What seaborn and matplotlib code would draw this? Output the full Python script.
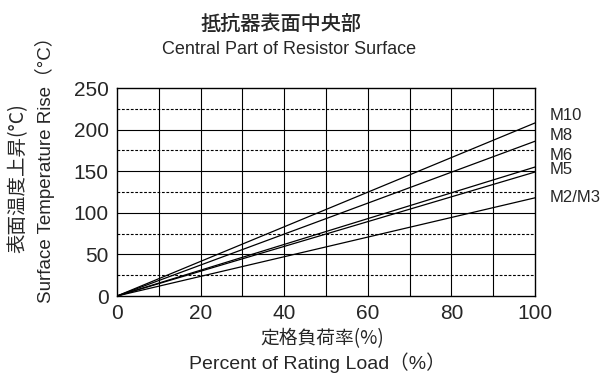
import matplotlib
matplotlib.use("Agg")
import matplotlib.pyplot as plt
import seaborn as sns
import pandas as pd

series = ["M10", "M8", "M6", "M5", "M2/M3"]
load_pct = [0, 100]
rise_m10 = [0, 208]
rise_m8 = [0, 186]
rise_m6 = [0, 155]
rise_m5 = [0, 149]
rise_m23 = [0, 118]
x_ticks = [0, 20, 40, 60, 80, 100]
y_ticks = [0, 50, 100, 150, 200, 250]

sns.set_style("white")
plt.rcParams['font.family'] = ['Noto Sans CJK JP', 'DejaVu Sans']

rows = []
for name, vals in zip(series, [rise_m10, rise_m8, rise_m6, rise_m5, rise_m23]):
    for x, y in zip(load_pct, vals):
        rows.append({"load": x, "rise": y, "series": name})
df = pd.DataFrame(rows)

fig = plt.figure(figsize=(6.03, 3.76), dpi=100)
ax = fig.add_axes([117/603, 1-296/376, (535-117)/603, (296-88)/376])

for xv in range(10, 100, 10):
    ax.axvline(xv, color="black", lw=0.8, zorder=1)
for yv in [50, 100, 150, 200]:
    ax.axhline(yv, color="black", lw=0.8, zorder=1)
for yv in [25, 75, 125, 175, 225]:
    ax.axhline(yv, color="black", lw=0.8, ls=(0, (2.5, 1.5)), zorder=1)

sns.lineplot(data=df, x="load", y="rise", units="series", estimator=None,
             color="black", lw=0.9, ax=ax, legend=False, zorder=3)

ax.set_xlim(0, 100)
ax.set_ylim(0, 250)
ax.set_xticks(x_ticks)
ax.set_yticks(y_ticks)
ax.tick_params(labelsize=15, length=0, pad=6)
for lab in ax.get_xticklabels() + ax.get_yticklabels():
    lab.set_family(["Liberation Sans", "DejaVu Sans"])
for s in ax.spines.values():
    s.set_color("black")
    s.set_linewidth(1.0)
ax.set_xlabel("")
ax.set_ylabel("")

label_y = {"M10": 115, "M8": 135, "M6": 155.5, "M5": 170, "M2/M3": 197}
for name in series:
    fig.text(550/603, 1-label_y[name]/376, name, fontsize=12, va="center", ha="left",
             family=["Liberation Sans", "DejaVu Sans"])

fig.text(281/603, 1-24/376, "抵抗器表面中央部", fontsize=14.5, ha="center", va="center", fontweight="medium")
fig.text(289/603, 1-49/376, "Central Part of Resistor Surface", fontsize=13, ha="center", va="center",
         family=["Liberation Sans", "DejaVu Sans"])
fig.text(322/603, 1-339/376, "定格負荷率(%)", fontsize=13.5, ha="center", va="center")
fig.text(317/603, 1-363/376, "Percent of Rating Load（%）", fontsize=14, ha="center", va="center",
         family=["Liberation Sans", "Noto Sans CJK JP"])
fig.text(18/603, 1-178/376, "表面温度上昇(°C)", fontsize=14, rotation=90, ha="center", va="center")
fig.text(45/603, 1-165/376, "Surface Temperature Rise（°C）", fontsize=13.5, rotation=90, ha="center", va="center",
         family=["Liberation Sans", "Noto Sans CJK JP"])

fig.savefig("out.png", dpi=100)
